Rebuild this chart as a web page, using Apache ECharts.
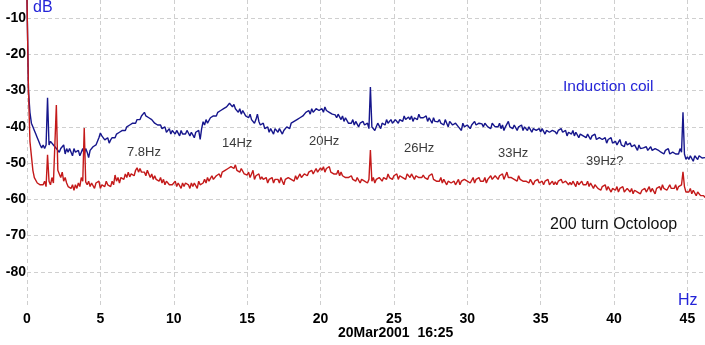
<!DOCTYPE html>
<html>
<head>
<meta charset="UTF-8">
<title>Spectrum</title>
<script src="https://cdn.jsdelivr.net/npm/echarts@6/dist/echarts.min.js"></script>
<style>
    html, body, #chart {
        width: 705px;
        height: 345px;
        margin: 0;
        padding: 0;
        background: #fff;
    }
</style>
</head>
<body>
<div id="chart"></div>
<script>
    // spectrum sampled every 0.1 Hz, one row per Hz
    var freqStep = 0.1;
    var xTicks = [0, 5, 10, 15, 20, 25, 30, 35, 40, 45];
    var yTicks = [-10, -20, -30, -40, -50, -60, -70, -80];

    var coilDb = [
        -5, -30, -36, -39, -40, -41, -42, -43, -44, -45,
        -45.8, -45, -46, -45, -32, -45, -44, -43.6, -45, -45.5,
        -46, -45.5, -47, -46, -46.5, -45, -47.5, -46, -47, -46,
        -46.5, -48, -46, -47, -47.5, -46.5, -48, -47, -46, -47.5,
        -46, -47, -48.5, -46.5, -47, -45.5, -46, -45, -44.5, -43,
        -41.7, -42.5, -43, -43.6, -44, -43, -44.5, -43.6, -43, -42.5,
        -43, -42, -42.5, -41.5, -42, -41, -40.5, -41, -40, -39.5,
        -39.5, -40, -39, -38.5, -39, -38, -37.5, -38, -37, -36.5,
        -36, -37, -36.5, -37.5, -37, -38, -37.5, -39, -38.5, -39.5,
        -40, -39.5, -40.5, -41, -40, -41.5, -41, -40.5, -42, -41,
        -41.4, -42, -41, -41.5, -42.5, -41, -42, -41.5, -42, -41,
        -41.7, -42.5, -41.5, -42, -43, -41.5, -42, -41, -43.5, -40.5,
        -38.6, -39.5, -38, -39, -38.5, -37.5, -38, -37, -36.5, -37,
        -36, -36.5, -35.5, -36, -35, -35.5, -34.5, -35, -33.5, -34,
        -34.5, -33.8, -35, -34.5, -36, -35, -36.5, -35.5, -36, -37,
        -37, -37.5, -36.5, -38, -37.5, -39, -38, -36.5, -38.5, -39.5,
        -40, -39, -40.5, -41, -40, -41.5, -40.5, -41, -42, -40.5,
        -41, -41.5, -40.5, -41, -42, -41, -40.5, -40, -39.5, -40.5,
        -39, -39.5, -38.5, -39, -38, -38.5, -37.5, -38, -37, -37.5,
        -36, -36.5, -35.5, -36.5, -35, -36, -35.5, -35, -34.5, -35.5,
        -35.3, -35, -36, -34.5, -35.5, -35, -36, -35.5, -36.5, -36,
        -36.7, -37.5, -36.5, -37, -38, -37, -38.5, -37.5, -38, -39,
        -38.6, -39, -38, -39.5, -38.5, -39, -40, -39, -39.5, -38.5,
        -39.5, -40, -39, -40.5, -29, -40, -39.5, -41, -40, -39,
        -39.5, -40.5, -39, -38.5, -39.5, -38, -39, -38.5, -38, -39,
        -38.6, -38, -37.5, -39, -38, -37.5, -38.5, -37, -38, -37.5,
        -37.3, -38, -37, -38.5, -37.5, -37, -38, -36.5, -37.5, -38,
        -37.5, -38, -37, -38.5, -37.5, -38, -39, -37.5, -38.5, -38,
        -38.6, -38, -39, -38.5, -39.5, -38, -39, -40, -38.5, -39,
        -39.5, -40, -39, -38.5, -40, -39.5, -41, -39, -40, -39.5,
        -39.5, -39, -40.5, -39.5, -40, -38.5, -39.5, -40, -39, -39.5,
        -39.2, -40, -39, -38.5, -40, -39.5, -40.5, -39, -38.5, -40,
        -39.5, -40, -39, -40.5, -39.5, -41, -40, -39.5, -38.5, -40,
        -39.8, -40.5, -39.5, -40, -41, -40, -40.5, -39.5, -41, -40,
        -40.3, -41, -40, -40.5, -41.5, -40.5, -40, -41, -41.5, -40.5,
        -41.4, -40.5, -41, -42, -41, -40.5, -41.5, -42, -41, -41.5,
        -41.4, -42, -41, -41.5, -40.5, -41.5, -42, -41, -42.5, -41.5,
        -41.7, -42, -41, -42.5, -41.5, -42, -43, -42, -41.5, -42.5,
        -42.2, -43, -42, -42.5, -43.5, -42.5, -43, -42, -43.5, -43,
        -43, -42.5, -43.5, -44, -43, -44.5, -43.5, -44, -43, -44.5,
        -44.2, -44, -45, -44.5, -43.5, -45, -44.5, -45.5, -44, -45,
        -45, -44.5, -45.5, -46, -45, -45.5, -46.5, -45, -46, -45.5,
        -45.8, -46, -45.5, -46.5, -46, -45.5, -46.5, -47, -46, -46.5,
        -46.4, -46, -47, -46.5, -47.5, -46.5, -47, -46, -47.5, -47,
        -47, -46.5, -47.5, -47, -47.5, -46, -47, -36, -47.5, -49,
        -48.3, -49, -48, -48.5, -49.5, -48, -48.5, -49, -48, -48.5,
        -48.6, -49, -48.5
    ];

    var octoloopDb = [
        -5, -30, -44, -48, -52, -54, -54.5, -55.5, -55, -56,
        -55.5, -56, -55, -56.5, -47.7, -55, -56, -54, -55.5, -56,
        -34, -52, -53, -54, -52.5, -55, -54, -55.5, -56.5, -56.8,
        -57, -56, -57.5, -56, -57, -55.5, -56.5, -54, -55, -40.3,
        -55.2, -56, -55, -56.5, -55.5, -56, -57, -55.5, -56, -55,
        -57, -56, -55.5, -56.5, -55, -56, -55.5, -56.5, -55, -56,
        -53.3, -55, -54, -55.5, -54, -53.5, -54.5, -53, -54, -52.5,
        -53.8, -53, -52.5, -53.5, -52, -51.3, -52.5, -51.5, -52.5, -52,
        -52.5, -53.5, -52, -53, -54, -53, -54.5, -53.5, -54.5, -55,
        -55, -54, -55.5, -54.5, -56, -55, -54.5, -56, -55.5, -56,
        -56, -55, -56.5, -55.5, -56, -57, -55.5, -56.5, -55.5, -56,
        -56, -57, -55.5, -56.5, -55.5, -56, -57, -55, -56, -55.5,
        -55.5, -54.5, -55.5, -54, -55, -54.5, -53.5, -54.5, -54, -53.5,
        -53.8, -53, -54, -52.5, -53, -52, -52.5, -51.5, -52, -51,
        -51, -51.5, -50.5, -52, -51.5, -52.5, -51.5, -52, -53, -52.5,
        -53.3, -52.5, -54, -53, -52, -54.5, -53.5, -54, -53, -54.5,
        -53.8, -54.5, -55, -54, -55.5, -54.5, -55, -54, -55.5, -54.5,
        -55, -54.5, -55.5, -54, -55, -56, -54.5, -55, -54, -54.5,
        -54.5, -54, -55, -53.5, -54.5, -54, -53, -54, -53.5, -53,
        -52.7, -53.5, -52.5, -53, -52, -53, -52.5, -51.5, -52.5, -52,
        -51.3, -52, -51, -52.5, -51.5, -52, -51, -52.5, -52, -53,
        -52.5, -53, -52, -53.5, -52.5, -53.5, -53, -54, -53.5, -54,
        -54, -53.5, -54.5, -54, -55, -54, -54.5, -55.5, -54.5, -55,
        -55, -54.5, -55.5, -54.5, -46.4, -55, -54, -55.5, -54.5, -54,
        -54, -53.5, -55, -54, -53.5, -54.5, -53, -54, -53.5, -54.5,
        -53.5, -54, -53, -54.5, -53.5, -53, -54, -53.5, -54.5, -53,
        -53.5, -54, -53, -53.5, -54.5, -53.5, -53, -54, -53.5, -54,
        -53.3, -54, -53.5, -54.5, -53.5, -54, -53, -54.5, -54, -55,
        -54.6, -55, -54, -55.5, -54.5, -55, -56, -55, -54.5, -55.5,
        -55.5, -55, -56, -55.5, -54.5, -56, -55, -55.5, -54.5, -55,
        -55, -54.5, -55.5, -55, -54, -55.5, -54.5, -55, -54, -55,
        -54.5, -55, -54, -55.5, -54.5, -54, -53.5, -54.5, -54, -53.5,
        -53.8, -54.5, -53.5, -54, -53, -54.5, -53.5, -52.5, -54, -53.5,
        -54, -53.5, -54.5, -54, -55, -53.5, -54.5, -54, -55, -54.5,
        -55, -54.5, -55.5, -54.5, -55, -56, -55, -55.5, -54.5, -55.5,
        -55.5, -55, -56, -55, -55.5, -54.5, -56, -55.5, -55, -56,
        -55.2, -56, -55, -55.5, -54.5, -55.5, -56, -55, -55.5, -56,
        -55.3, -56, -55, -55.5, -56.5, -55, -56, -55.5, -55, -56,
        -55.5, -56, -55, -56.5, -55.5, -56, -57, -56, -56.5, -57,
        -56.8, -57.5, -56.5, -57, -56, -57.5, -56.5, -57, -58, -57,
        -57, -57.5, -56.5, -58, -57, -57.5, -56.5, -58, -57.5, -57,
        -57.5, -58, -57, -58.5, -57.5, -57, -58, -57.5, -58.5, -57.5,
        -57.8, -57, -58, -57.5, -56.5, -58, -57, -57.5, -58.5, -57,
        -57, -56.5, -57.5, -56, -57, -56.5, -57.5, -57, -56, -57,
        -56.5, -57, -56, -57.5, -56.5, -57, -56, -52.4, -56.5, -58,
        -57.5, -58, -57, -58.5, -57.5, -58, -59, -58, -58.5, -59,
        -59.3, -59, -59.5
    ];

    var peakLabels = ['7.8Hz', '14Hz', '20Hz', '26Hz', '33Hz', '39Hz?'];

    function toPairs(arr) {
        return arr.map(function (v, i) {
            return [+(i * freqStep).toFixed(1), v];
        });
    }

    var chart = echarts.init(document.getElementById('chart'));
    var labelFont = {
        color: '#000',
        fontFamily: 'Liberation Sans',
        fontWeight: 'bold',
        fontSize: 14
    };
    var peakPos = [[127, 146], [222, 137], [309, 135], [404, 142], [498, 147], [586, 155]];

    var graphics = [
        { type: 'text', left: 33, top: 0, style: { text: 'dB', fill: '#2424d8', font: '16px Liberation Sans' } },
        { type: 'text', left: 678, top: 293, style: { text: 'Hz', fill: '#2424d8', font: '16px Liberation Sans' } },
        { type: 'text', left: 338, top: 326, style: { text: '20Mar2001  16:25', fill: '#000', font: 'bold 14px Liberation Sans' } },
        { type: 'text', left: 563, top: 79, style: { text: 'Induction coil', fill: '#2424d8', font: '15.5px Liberation Sans' } },
        { type: 'text', left: 550, top: 217, style: { text: '200 turn Octoloop', fill: '#111', font: '16px Liberation Sans' } }
    ];
    peakLabels.forEach(function (t, i) {
        graphics.push({
            type: 'text', left: peakPos[i][0], top: peakPos[i][1],
            style: { text: t, fill: '#3a3a3a', font: '13px Liberation Sans' }
        });
    });
    graphics.forEach(function (g) { g.z = 100; });

    var option = {
        animation: false,
        backgroundColor: '#fff',
        grid: { left: 27, right: 0, top: 0, bottom: 37 },
        xAxis: {
            type: 'value',
            min: 0,
            max: 46.2,
            interval: 5,
            axisLine: { show: false },
            axisTick: { show: false },
            axisLabel: Object.assign({
                margin: 4,
                customValues: xTicks
            }, labelFont),
            splitLine: {
                show: true,
                showMaxLine: false,
                lineStyle: { color: '#cfcfcf', type: [4, 3], width: 1 }
            }
        },
        yAxis: {
            type: 'value',
            min: -90,
            max: -5,
            interval: 10,
            axisLine: { show: false },
            axisTick: { show: false },
            axisLabel: Object.assign({
                margin: 1,
                customValues: yTicks
            }, labelFont),
            splitLine: {
                show: true,
                showMinLine: false,
                showMaxLine: false,
                lineStyle: { color: '#cfcfcf', type: [4, 3], width: 1 }
            }
        },
        series: [
            {
                name: 'Induction coil',
                type: 'line',
                data: toPairs(coilDb),
                showSymbol: false,
                lineStyle: { color: '#16168c', width: 1.4 }
            },
            {
                name: '200 turn Octoloop',
                type: 'line',
                data: toPairs(octoloopDb),
                showSymbol: false,
                lineStyle: { color: '#c41a1a', width: 1.4 }
            }
        ],
        graphic: { elements: graphics }
    };
    chart.setOption(option);
</script>
</body>
</html>
